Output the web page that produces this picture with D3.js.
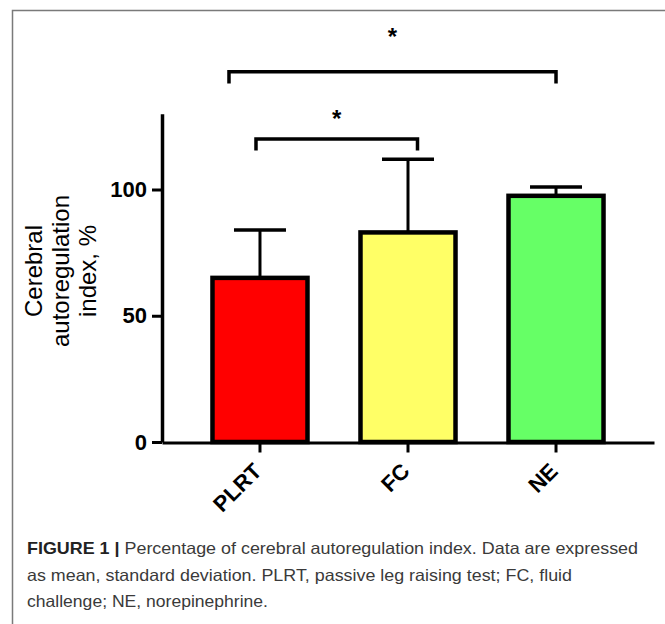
<!DOCTYPE html>
<html>
<head>
<meta charset="utf-8">
<script src="https://cdn.jsdelivr.net/npm/d3@7/dist/d3.min.js"></script>
<style>
  html, body { margin: 0; padding: 0; background: #fff; }
  svg { display: block; }
</style>
</head>
<body>
<svg id="chart" width="665" height="624"></svg>
<script>
// ---- data ----
const categories = ["PLRT", "FC", "NE"];
const means = [65, 83, 97.5];
const sds = [19, 29, 3.5];
const barColors = ["#ff0000", "#ffff66", "#66ff66"];
const yTicks = [0, 50, 100];
const yLabelLines = ["Cerebral", "autoregulation", "index, %"];
// significance brackets: from/to category, level value, drop value, pixel offsets for ends
const bracketFrom = ["PLRT", "PLRT"];
const bracketTo = ["FC", "NE"];
const bracketLevel = [120, 146.6];
const bracketEnd = [115.4, 142];
const bracketOffL = [-4, -31];
const bracketOffR = [9.5, 0];
const bracketMarkGap = [12, 26.5];
const bracketMark = ["*", "*"];
const captionBold = "FIGURE 1 | ";
const captionLines = [
  "Percentage of cerebral autoregulation index. Data are expressed",
  "as mean, standard deviation. PLRT, passive leg raising test; FC, fluid",
  "challenge; NE, norepinephrine."
];
const captionWidths = [611, 545, 241];

const svg = d3.select("#chart");
const FONT = "'Liberation Sans', Arial, sans-serif";

// frame
svg.append("rect").attr("x", 12.5).attr("y", 10.5).attr("width", 700).attr("height", 700)
  .attr("fill", "none").attr("stroke", "#7a7a7a").attr("stroke-width", 1.5);

const x = d3.scaleBand().domain(categories).range([162, 654])
  .paddingInner(0.358).paddingOuter(0.341);
const y = d3.scaleLinear().domain([0, 130]).range([442, 113.75]);

// y axis
const gy = svg.append("g").attr("transform", "translate(162,0)")
  .call(d3.axisLeft(y).tickValues(yTicks).tickSize(10).tickSizeOuter(0).tickPadding(5).tickFormat(d3.format("d")));
gy.select(".domain").attr("stroke", "#000").attr("stroke-width", 3.5);
gy.selectAll(".tick line").attr("stroke", "#000").attr("stroke-width", 3);
gy.selectAll(".tick text").attr("font-family", FONT).attr("font-weight", "bold")
  .attr("font-size", 22).attr("fill", "#000");

// x axis
const gx = svg.append("g").attr("transform", "translate(0,442.5)")
  .call(d3.axisBottom(x).tickSize(10).tickSizeOuter(0));
gx.select(".domain").attr("stroke", "#000").attr("stroke-width", 3);
gx.selectAll(".tick line").attr("stroke", "#000").attr("stroke-width", 3);
gx.selectAll(".tick text").remove();
gx.selectAll(".tick").append("text")
  .attr("transform", "translate(3,30) rotate(-45)")
  .attr("text-anchor", "end")
  .attr("font-family", FONT).attr("font-weight", "bold").attr("font-size", 22)
  .attr("fill", "#000")
  .text(d => d);

// bars
const data = categories.map((c, i) => ({ c, m: means[i], sd: sds[i], col: barColors[i] }));
svg.append("g").selectAll("rect").data(data).join("rect")
  .attr("x", d => x(d.c)).attr("width", x.bandwidth())
  .attr("y", d => y(d.m)).attr("height", d => y(0) - y(d.m))
  .attr("fill", d => d.col).attr("stroke", "#000").attr("stroke-width", 4.5);

// error bars (upper only)
const eb = svg.append("g");
eb.selectAll("line.v").data(data).join("line").attr("class", "v")
  .attr("x1", d => x(d.c) + x.bandwidth() / 2).attr("x2", d => x(d.c) + x.bandwidth() / 2)
  .attr("y1", d => y(d.m)).attr("y2", d => y(d.m + d.sd))
  .attr("stroke", "#000").attr("stroke-width", 3);
eb.selectAll("line.cap").data(data).join("line").attr("class", "cap")
  .attr("x1", d => x(d.c) + x.bandwidth() / 2 - 26).attr("x2", d => x(d.c) + x.bandwidth() / 2 + 26)
  .attr("y1", d => y(d.m + d.sd)).attr("y2", d => y(d.m + d.sd))
  .attr("stroke", "#000").attr("stroke-width", 3.5);

// significance brackets
const bk = svg.append("g");
bracketFrom.forEach((f, i) => {
  const x1 = x(f) + x.bandwidth() / 2 + bracketOffL[i];
  const x2 = x(bracketTo[i]) + x.bandwidth() / 2 + bracketOffR[i];
  const yl = y(bracketLevel[i]), ye = y(bracketEnd[i]);
  bk.append("path")
    .attr("d", `M${x1},${ye}V${yl}H${x2}V${ye}`)
    .attr("fill", "none").attr("stroke", "#000").attr("stroke-width", 3.5)
    .attr("stroke-linejoin", "miter");
  bk.append("text")
    .attr("x", (x1 + x2) / 2).attr("y", yl - bracketMarkGap[i])
    .attr("text-anchor", "middle")
    .attr("font-family", FONT).attr("font-weight", "bold").attr("font-size", 24)
    .attr("fill", "#000")
    .text(bracketMark[i]);
});

// y label
const ylab = svg.append("g");
const lineX = [42, 69, 96];
yLabelLines.forEach((t, i) => {
  ylab.append("text")
    .attr("transform", `translate(${lineX[i]},271) rotate(-90)`)
    .attr("text-anchor", "middle")
    .attr("font-family", FONT).attr("font-size", 24).attr("fill", "#000")
    .text(t);
});

// caption
const cap = svg.append("g").attr("font-family", FONT).attr("font-size", 16.5).attr("fill", "#3a3a3a");
const capY = [554, 580.5, 607];
captionLines.forEach((t, i) => {
  const tx = cap.append("text").attr("x", 27).attr("y", capY[i])
    .attr("textLength", captionWidths[i]).attr("lengthAdjust", "spacingAndGlyphs");
  if (i === 0) tx.append("tspan").attr("font-weight", "bold").attr("fill", "#222").text(captionBold);
  tx.append("tspan").text(t);
});
</script>
</body>
</html>
